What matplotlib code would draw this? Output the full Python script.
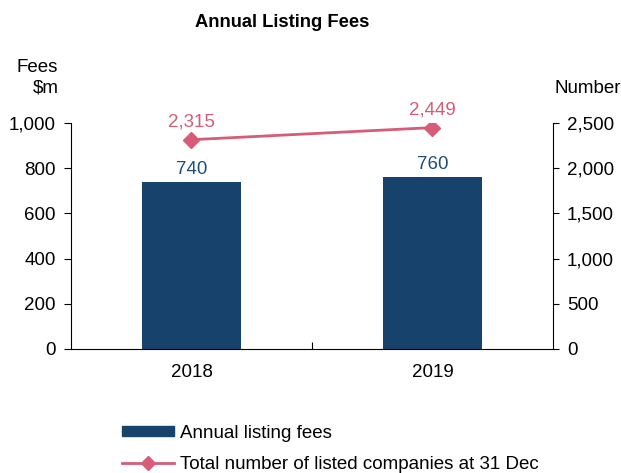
import matplotlib
matplotlib.use("Agg")
import matplotlib.pyplot as plt
from matplotlib.lines import Line2D
from matplotlib.patches import Patch

plt.rcParams['font.family'] = ['Liberation Sans', 'DejaVu Sans']

# data
years = ["2018", "2019"]
fees = [740, 760]
companies = [2315, 2449]

bar_color = "#16426B"
line_color = "#D65C78"
fee_label_color = "#1F4E79"
fs = 13.5

fig = plt.figure(figsize=(6.21, 4.73), dpi=100)
ax = fig.add_axes([0.1143, 0.2622, 0.7762, 0.4778])
x = list(range(len(years)))

ax.bar(x, fees, width=0.41, color=bar_color, zorder=2)
for xi, v in zip(x, fees):
    ax.text(xi, v + 18, f"{v:,}", ha="center", va="bottom",
            fontsize=fs, color=fee_label_color)

ax.set_xlim(-0.5, 1.5)
ax.set_ylim(0, 1000)
ax.set_yticks(range(0, 1001, 200))
ax.set_yticklabels([f"{t:,}" for t in range(0, 1001, 200)])
ax.set_xticks([0.5])
ax.set_xticklabels([""])
ax.tick_params(axis="x", direction="in", length=5, width=0.8)
for xi, yr in zip(x, years):
    ax.text(xi, -0.065, yr, transform=ax.get_xaxis_transform(),
            ha="center", va="top", fontsize=fs)
ax.tick_params(axis="y", direction="out", length=5, width=0.8, labelsize=fs, pad=6)
for s in ["top", "right"]:
    ax.spines[s].set_visible(False)
ax.spines["left"].set_linewidth(0.8)
ax.spines["bottom"].set_linewidth(0.8)

ax2 = ax.twinx()
ax2.plot(x, companies, color=line_color, lw=2, marker="D", markersize=8, zorder=3)
for xi, v in zip(x, companies):
    ax2.text(xi, v + 100, f"{v:,}", ha="center", va="bottom",
             fontsize=fs, color=line_color)
ax2.set_ylim(0, 2500)
ax2.set_yticks(range(0, 2501, 500))
ax2.set_yticklabels([f"{t:,}" for t in range(0, 2501, 500)])
ax2.tick_params(axis="y", direction="out", length=4, width=0.8, labelsize=fs, pad=6)
for s in ["top", "left"]:
    ax2.spines[s].set_visible(False)
ax2.spines["right"].set_linewidth(0.8)
ax2.spines["bottom"].set_visible(False)

fig.text(0.455, 0.952, "Annual Listing Fees", ha="center", va="center",
         fontsize=13.2, fontweight="bold")
fig.text(0.094, 0.835, "Fees\n$m", ha="right", va="center", fontsize=fs, linespacing=1.25)
fig.text(1.0, 0.813, "Number", ha="right", va="center", fontsize=fs)

handles = [Patch(color=bar_color),
           Line2D([0], [0], color=line_color, lw=2, marker="D", markersize=7)]
fig.legend(handles, ["Annual listing fees", "Total number of listed companies at 31 Dec"],
           loc="lower left", bbox_to_anchor=(0.1685, -0.035), frameon=False,
           fontsize=fs, handlelength=2.8, handleheight=0.5, handletextpad=0.3,
           labelspacing=0.75)

fig.savefig("out.png", dpi=100)
